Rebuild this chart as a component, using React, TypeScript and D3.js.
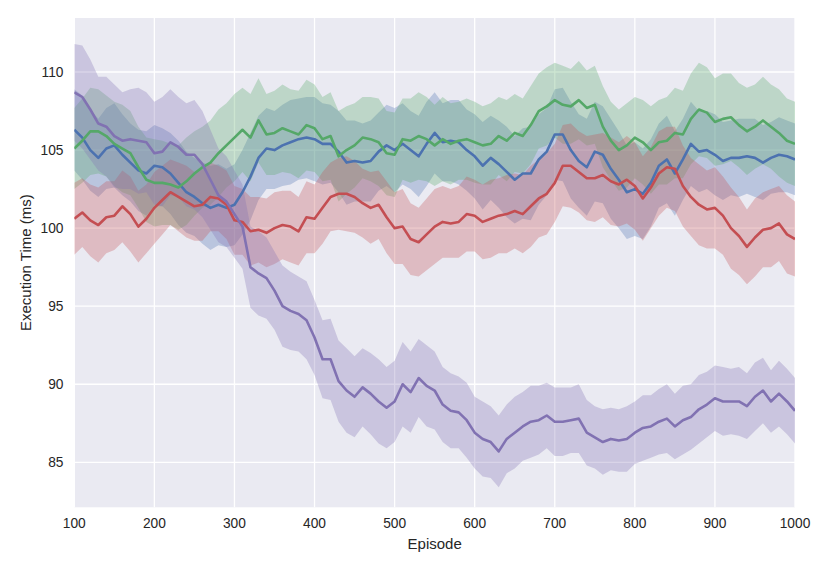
import React, { useEffect, useRef } from 'react';
import * as d3 from 'd3';

// sampled every 10 episodes, 100..1000
const episodes = d3.range(100, 1001, 10);

const blueMean = [
  106.3, 105.8, 105.0, 104.5, 105.1, 105.3, 104.7, 104.2, 103.7, 103.5,
  104.0, 103.9, 103.5, 102.9, 102.3, 102.0, 101.6, 101.3, 101.5, 101.3,
  101.5, 102.3, 103.3, 104.5, 105.1, 105.0, 105.3, 105.5, 105.7, 105.8,
  105.7, 105.4, 105.4, 104.9, 104.2, 104.3, 104.2, 104.3, 104.9, 105.3,
  105.0, 105.4, 105.0, 104.6, 105.4, 106.1, 105.5, 105.6, 105.5, 105.0,
  104.6, 104.0, 104.5, 104.1, 103.6, 103.1, 103.5, 103.5, 104.4, 104.9,
  106.0, 106.0, 105.0, 104.3, 103.9, 104.9, 104.7, 103.8, 103.1, 102.3,
  102.5, 102.2, 102.9, 104.0, 104.4, 103.5, 104.4, 105.4, 104.9, 105.0,
  104.7, 104.3, 104.5, 104.5, 104.6, 104.5, 104.2, 104.5, 104.7, 104.6,
  104.4,
];
const blueSpread = [
  2.6, 2.7, 2.6, 2.5, 2.6, 2.7, 2.6, 2.5, 2.6, 2.7,
  2.6, 2.5, 2.6, 2.7, 2.6, 2.5, 2.6, 2.7, 2.6, 2.5,
  2.6, 2.7, 2.8, 2.7, 2.6, 2.5, 2.6, 2.7, 2.6, 2.6,
  2.7, 2.6, 2.5, 2.6, 2.7, 2.6, 2.5, 2.6, 2.5, 2.6,
  2.7, 2.6, 2.5, 2.6, 2.7, 2.6, 2.5, 2.6, 2.7, 2.6,
  2.7, 2.8, 2.7, 2.8, 2.9, 2.8, 2.9, 3.0, 2.9, 2.8,
  2.9, 3.0, 3.1, 3.0, 3.1, 3.2, 3.1, 3.2, 3.1, 3.0,
  3.0, 2.9, 2.8, 2.7, 2.8, 2.7, 2.6, 2.7, 2.6, 2.5,
  2.6, 2.5, 2.4, 2.5, 2.4, 2.5, 2.4, 2.3, 2.4, 2.3,
  2.3,
];

const greenMean = [
  105.1, 105.6, 106.2, 106.2, 105.9, 105.4, 105.1, 104.8, 103.9, 103.1,
  102.9, 102.9, 102.8, 102.6, 103.0, 103.5, 103.9, 104.2, 104.8, 105.3,
  105.8, 106.3, 105.8, 106.9, 106.0, 106.1, 106.4, 106.2, 106.0, 106.6,
  106.4, 105.7, 105.9, 104.6, 105.0, 105.3, 105.8, 105.7, 105.5, 104.8,
  104.7, 105.7, 105.6, 105.9, 105.7, 105.3, 105.7, 105.4, 105.6, 105.7,
  105.5, 105.3, 105.4, 105.9, 105.6, 106.1, 105.9, 106.6, 107.5, 107.8,
  108.2, 107.9, 107.8, 108.2, 107.7, 107.9, 106.5, 105.6, 105.0, 105.3,
  105.8, 105.5, 105.0, 105.5, 105.6, 106.1, 106.0, 107.0, 107.6, 107.4,
  106.8, 107.0, 107.1, 106.6, 106.2, 106.5, 106.9, 106.5, 106.1, 105.6,
  105.4,
];
const greenSpread = [
  2.6, 2.7, 2.8, 2.7, 2.6, 2.7, 2.8, 2.7, 2.6, 2.7,
  2.8, 2.7, 2.6, 2.7, 2.8, 2.7, 2.6, 2.7, 2.8, 2.7,
  2.8, 2.7, 2.8, 2.7, 2.6, 2.7, 2.8, 2.7, 2.8, 2.9,
  2.8, 2.7, 2.8, 2.9, 2.8, 2.7, 2.6, 2.7, 2.8, 2.7,
  2.7, 2.6, 2.7, 2.8, 2.7, 2.6, 2.7, 2.6, 2.5, 2.6,
  2.6, 2.5, 2.6, 2.5, 2.6, 2.5, 2.4, 2.5, 2.4, 2.5,
  2.4, 2.5, 2.4, 2.5, 2.4, 2.5, 2.6, 2.5, 2.6, 2.7,
  2.6, 2.7, 2.8, 2.7, 2.8, 2.9, 2.8, 2.9, 3.0, 2.9,
  2.8, 2.9, 2.8, 2.7, 2.8, 2.7, 2.8, 2.7, 2.8, 2.7,
  2.7,
];

const redMean = [
  100.6, 101.0, 100.5, 100.2, 100.7, 100.8, 101.4, 100.9, 100.1, 100.6,
  101.3, 101.8, 102.3, 102.0, 101.7, 101.4, 101.5, 102.0, 101.9, 101.5,
  100.5, 100.4, 99.8, 99.9, 99.7, 100.0, 100.2, 100.1, 99.8, 100.7,
  100.6, 101.3, 102.0, 102.2, 102.2, 102.0, 101.6, 101.3, 101.5, 100.7,
  100.0, 100.1, 99.3, 99.1, 99.6, 100.1, 100.4, 100.3, 100.4, 100.9,
  100.8, 100.4, 100.6, 100.8, 100.9, 101.1, 100.9, 101.4, 101.9, 102.2,
  102.9, 104.0, 104.0, 103.6, 103.2, 103.2, 103.4, 103.0, 102.8, 103.1,
  102.7, 101.9, 102.6, 103.5, 103.9, 103.8, 102.7, 102.0, 101.5, 101.2,
  101.3, 100.8, 100.0, 99.5, 98.8, 99.4, 99.9, 100.0, 100.3, 99.6,
  99.3,
];
const redSpread = [
  2.3, 2.2, 2.3, 2.4, 2.3, 2.2, 2.3, 2.4, 2.3, 2.2,
  2.3, 2.2, 2.1, 2.2, 2.3, 2.2, 2.3, 2.2, 2.1, 2.2,
  2.2, 2.1, 2.2, 2.1, 2.2, 2.3, 2.2, 2.3, 2.2, 2.3,
  2.2, 2.3, 2.2, 2.3, 2.4, 2.3, 2.2, 2.3, 2.2, 2.3,
  2.3, 2.4, 2.3, 2.2, 2.3, 2.4, 2.3, 2.2, 2.3, 2.4,
  2.3, 2.4, 2.5, 2.4, 2.5, 2.4, 2.5, 2.6, 2.5, 2.6,
  2.5, 2.6, 2.7, 2.6, 2.7, 2.8, 2.7, 2.8, 2.7, 2.8,
  2.8, 2.7, 2.6, 2.7, 2.6, 2.7, 2.6, 2.5, 2.6, 2.5,
  2.6, 2.5, 2.6, 2.5, 2.4, 2.5, 2.4, 2.5, 2.4, 2.5,
  2.4,
];

const purpleMean = [
  108.7, 108.4, 107.6, 106.7, 106.5, 105.9, 105.6, 105.7, 105.6, 105.5,
  104.8, 104.9, 105.5, 105.2, 104.7, 104.7, 104.1, 103.1, 102.1, 101.7,
  100.9, 100.1, 97.5, 97.1, 96.8, 96.0, 95.0, 94.7, 94.5, 94.1,
  93.0, 91.6, 91.6, 90.2, 89.6, 89.2, 89.8, 89.4, 88.9, 88.5,
  88.9, 90.0, 89.5, 90.4, 89.9, 89.6, 88.7, 88.3, 88.2, 87.7,
  86.9, 86.5, 86.3, 85.7, 86.5, 86.9, 87.3, 87.6, 87.7, 88.0,
  87.6, 87.6, 87.7, 87.8, 86.9, 86.6, 86.3, 86.5, 86.4, 86.5,
  86.9, 87.2, 87.3, 87.6, 87.8, 87.3, 87.7, 87.9, 88.4, 88.7,
  89.1, 88.9, 88.9, 88.9, 88.6, 89.2, 89.6, 88.9, 89.4, 88.9,
  88.3,
];
const purpleSpread = [
  3.1, 3.3, 3.2, 3.0, 3.2, 3.3, 3.1, 3.2, 3.4, 3.2,
  3.3, 3.5, 3.4, 3.2, 3.3, 3.5, 3.4, 3.2, 3.0, 2.9,
  2.8, 2.7, 2.6, 2.7, 2.6, 2.5, 2.6, 2.5, 2.4, 2.5,
  2.4, 2.5, 2.6, 2.6, 2.7, 2.6, 2.5, 2.6, 2.7, 2.6,
  2.6, 2.7, 2.6, 2.5, 2.6, 2.5, 2.4, 2.4, 2.3, 2.4,
  2.3, 2.4, 2.3, 2.3, 2.2, 2.3, 2.2, 2.3, 2.2, 2.1,
  2.2, 2.2, 2.1, 2.2, 2.1, 2.0, 2.1, 2.0, 2.0, 2.1,
  2.0, 2.1, 2.0, 2.1, 2.2, 2.1, 2.2, 2.1, 2.2, 2.1,
  2.1, 2.2, 2.1, 2.2, 2.1, 2.2, 2.1, 2.0, 2.1, 2.1,
  2.1,
];

const xTicks = [100, 200, 300, 400, 500, 600, 700, 800, 900, 1000];
const yTicks = [85, 90, 95, 100, 105, 110];

const seriesList = [
  { mean: blueMean, spread: blueSpread, color: '#4c72b0' },
  { mean: greenMean, spread: greenSpread, color: '#55a868' },
  { mean: redMean, spread: redSpread, color: '#c44e52' },
  { mean: purpleMean, spread: purpleSpread, color: '#8172b2' },
];

const W = 830;
const H = 571;
const FONT = '"Liberation Sans", Arial, sans-serif';

const App: React.FC = () => {
  const svgRef = useRef<SVGSVGElement>(null);

  useEffect(() => {
    if (!svgRef.current) return;
    const svg = d3.select(svgRef.current);
    svg.selectAll('*').remove();

    const left = 74.3, right = 795, top = 18, bottom = 507.3;

    const x = d3.scaleLinear().domain([100, 1000]).range([left, right]);
    const y = d3.scaleLinear().domain([82.12, 113.46]).range([bottom, top]);

    // background
    svg.append('rect')
      .attr('x', left).attr('y', top)
      .attr('width', right - left).attr('height', bottom - top)
      .attr('fill', '#eaeaf2');

    // grid
    const grid = svg.append('g').attr('stroke', '#ffffff').attr('stroke-width', 1.3);
    grid.selectAll('line.v').data(xTicks).enter().append('line')
      .attr('x1', d => x(d)).attr('x2', d => x(d))
      .attr('y1', top).attr('y2', bottom);
    grid.selectAll('line.h').data(yTicks).enter().append('line')
      .attr('y1', d => y(d)).attr('y2', d => y(d))
      .attr('x1', left).attr('x2', right);

    svg.append('clipPath').attr('id', 'plotclip')
      .append('rect')
      .attr('x', left).attr('y', top)
      .attr('width', right - left).attr('height', bottom - top);

    const plot = svg.append('g').attr('clip-path', 'url(#plotclip)');
    const bands = plot.append('g');
    const lines = plot.append('g');

    seriesList.forEach(s => {
      const area = d3.area<number>()
        .x((_, i) => x(episodes[i]))
        .y0((d, i) => y(d - s.spread[i]))
        .y1((d, i) => y(d + s.spread[i]));
      const line = d3.line<number>()
        .x((_, i) => x(episodes[i]))
        .y(d => y(d));

      bands.append('path')
        .datum(s.mean)
        .attr('d', area)
        .attr('fill', s.color)
        .attr('fill-opacity', 0.3)
        .attr('stroke', 'none');

      lines.append('path')
        .datum(s.mean)
        .attr('d', line)
        .attr('fill', 'none')
        .attr('stroke', s.color)
        .attr('stroke-width', 2.6)
        .attr('stroke-linejoin', 'round');
    });

    // tick labels
    svg.append('g').selectAll('text').data(xTicks).enter().append('text')
      .attr('x', d => x(d)).attr('y', 528)
      .attr('text-anchor', 'middle')
      .attr('font-family', FONT).attr('font-size', 13.75)
      .attr('fill', '#262626')
      .text(d => d);

    svg.append('g').selectAll('text').data(yTicks).enter().append('text')
      .attr('x', 63.5).attr('y', d => y(d) + 5)
      .attr('text-anchor', 'end')
      .attr('font-family', FONT).attr('font-size', 13.75)
      .attr('fill', '#262626')
      .text(d => d);

    svg.append('text')
      .attr('x', (left + right) / 2).attr('y', 549)
      .attr('text-anchor', 'middle')
      .attr('font-family', FONT).attr('font-size', 15)
      .attr('fill', '#262626')
      .text('Episode');

    svg.append('text')
      .attr('transform', `translate(31, ${(top + bottom) / 2}) rotate(-90)`)
      .attr('text-anchor', 'middle')
      .attr('font-family', FONT).attr('font-size', 15)
      .attr('fill', '#262626')
      .text('Execution Time (ms)');
  }, []);

  return (
    <svg
      ref={svgRef}
      width={W}
      height={H}
      style={{ position: 'absolute', left: 0, top: 0, background: '#ffffff' }}
    />
  );
};

export default App;
